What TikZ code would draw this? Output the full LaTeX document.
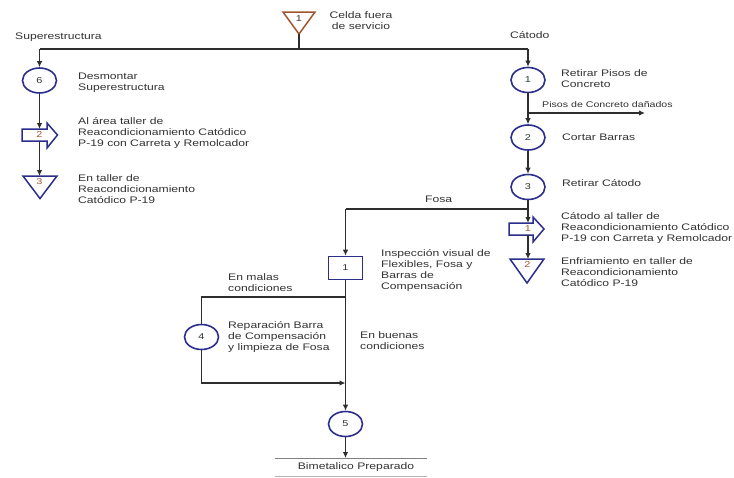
\documentclass[tikz,border=0pt]{standalone}
\usepackage{fontspec}
\setmainfont{Liberation Sans}[FakeStretch=1.28]
\usetikzlibrary{shapes.geometric,arrows.meta,calc}
\definecolor{navy}{HTML}{2B2E8C}
\definecolor{brn}{HTML}{A0562F}
\definecolor{ln}{HTML}{2E2E2E}
\definecolor{txt}{HTML}{333333}
\begin{document}
\begin{tikzpicture}[x=1pt,y=-1pt,
 circ/.style={ellipse, draw=navy, line width=1.6pt, minimum width=34pt, minimum height=25pt, inner sep=0pt, font=\fontsize{8.5}{9}\selectfont, text=txt, fill=white},
 boxst/.style={rectangle, draw=navy, line width=1.6pt, minimum width=34pt, minimum height=23pt, inner sep=0pt, font=\fontsize{8.5}{9}\selectfont, text=txt, fill=white},
 lbl/.style={anchor=west, align=left, inner sep=0pt, font=\fontsize{9.5}{11}\selectfont, text=txt},
 small/.style={anchor=west, inner sep=0pt, font=\fontsize{8.3}{9}\selectfont, text=txt},
 conn/.style={draw=ln, line width=1.4pt},
 arr/.style={conn, -{Latex[length=6pt,width=5.5pt]}},
 shp/.style={draw=navy, line width=1.5pt, fill=white, line join=miter},
 num/.style={inner sep=0pt, font=\fontsize{8.5}{9}\selectfont, text=brn},
]
\useasboundingbox[fill=white] (0,0) rectangle (734,477);

% top triangle
\draw[draw=brn, line width=1.5pt, fill=white] (283,12) -- (315,12) -- (299,34) -- cycle;
\node[inner sep=0pt, font=\fontsize{8.5}{9}\selectfont, text=txt] (t0) at (299,19) {1};
\coordinate (t0tip) at (299,34);
\node[lbl, align=center, anchor=center] (celda) at (361,20.5) {Celda fuera\\de servicio};

\coordinate (jt) at (299,49);
\coordinate (jl) at (39.5,49);
\coordinate (jr) at (528,49);
\draw[conn] (t0tip) -- (jt);
\draw[conn] (jl) -- (jr);
\node[lbl] (sup) at (15,37.5) {Superestructura};
\node[lbl] (cat) at (510,35) {Cátodo};

% left column
\node[circ] (c6) at (39.5,80.5) {6};
\node[lbl] (t6) at (78,82.5) {Desmontar\\Superestructura};
\draw[arr] (jl) -- (c6);

\draw[shp] (22,129) -- (47,129) -- (47,123) -- (57.5,135) -- (47,148) -- (47,141) -- (22,141) -- cycle;
\node[num] (a2) at (39.5,135) {2};
\coordinate (a2n) at (39.5,129);
\coordinate (a2s) at (39.5,141);
\node[lbl] (ta2) at (78,133) {Al área taller de\\Reacondicionamiento Catódico\\P-19 con Carreta y Remolcador};
\draw[arr] (c6) -- (a2n);

\draw[shp] (23,176) -- (57,176) -- (40,198.5) -- cycle;
\node[num] (tr3) at (39.5,182) {3};
\coordinate (tr3n) at (39.5,176);
\node[lbl] (ttr3) at (78,189) {En taller de\\Reacondicionamiento\\Catódico P-19};
\draw[arr] (a2s) -- (tr3n);

% right column
\node[circ] (c1) at (528,80) {1};
\node[lbl] (tc1) at (561,78.5) {Retirar Pisos de\\Concreto};
\draw[arr] (jr) -- (c1);

\node[circ] (c2) at (528,137.5) {2};
\node[lbl] (tc2) at (562,137) {Cortar Barras};
\draw[arr] (c1) -- (c2);
\coordinate (pb) at (528,113);
\coordinate (pe) at (645,113);
\draw[arr] (pb) -- (pe);
\node[small] (tpb) at (542,104.5) {Pisos de Concreto dañados};

\node[circ] (c3) at (528,187) {3};
\node[lbl] (tc3) at (562,183.5) {Retirar Cátodo};
\draw[arr] (c2) -- (c3);

\draw[shp] (509,223) -- (533,223) -- (533,217) -- (544,229) -- (533,242) -- (533,235) -- (509,235) -- cycle;
\node[num] (a1) at (528,229) {1};
\coordinate (a1n) at (528,223);
\coordinate (a1s) at (528,235);
\node[lbl] (ta1) at (561,228) {Cátodo al taller de\\Reacondicionamiento Catódico\\P-19 con Carreta y Remolcador};
\draw[arr] (c3) -- (a1n);

\draw[shp] (510,259) -- (544,259) -- (527,283) -- cycle;
\node[num] (tr2) at (527.5,265) {2};
\coordinate (tr2n) at (528,259);
\node[lbl] (ttr2) at (561,272) {Enfriamiento en taller de\\Reacondicionamiento\\Catódico P-19};
\draw[arr] (a1s) -- (tr2n);

% fosa branch
\coordinate (fr) at (528,209);
\coordinate (fl) at (345.5,209);
\node[lbl] (tfosa) at (425,199) {Fosa};
\node[boxst] (b1) at (345.5,268) {1};
\draw[conn] (fr) -- (fl);
\draw[arr] (fl) -- (b1);
\node[lbl] (tb1) at (381,270.5) {Inspección visual de\\Flexibles, Fosa y\\Barras de\\Compensación};

\coordinate (m1) at (345.5,297);
\coordinate (m1l) at (201.5,297);
\node[circ] (c4) at (201.5,337) {4};
\coordinate (m2l) at (201.5,383);
\coordinate (m2) at (345.5,383);
\node[circ] (c5) at (345.5,424) {5};
\draw[arr] (b1) -- (c5);
\draw[conn] (m1) -- (m1l) -- (c4);
\draw[arr] (c4) -- (m2l) -- (m2);
\node[lbl] (tmal) at (228,282.5) {En malas\\condiciones};
\node[lbl] (tc4) at (228,336.5) {Reparación Barra\\de Compensación\\y limpieza de Fosa};
\node[lbl] (tbue) at (360,341) {En buenas\\condiciones};

\coordinate (endp) at (345.5,458);
\draw[arr] (c5) -- (endp);
\coordinate (l1a) at (275,458);
\coordinate (l1b) at (427,458);
\coordinate (l2a) at (275,476);
\coordinate (l2b) at (427,476);
\draw[conn, line width=1pt, draw=gray] (l1a) -- (l1b);
\draw[conn, line width=0.8pt, draw=gray!60] (l2a) -- (l2b);
\node[lbl, anchor=center] (tbim) at (356,467) {Bimetalico Preparado};
\end{tikzpicture}
\end{document}
